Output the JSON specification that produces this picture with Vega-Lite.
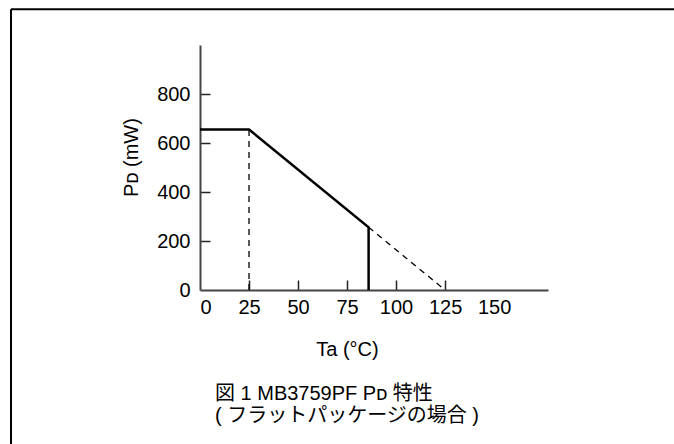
{
  "$schema": "https://vega.github.io/schema/vega-lite/v6.json",
  "width": 348,
  "height": 245,
  "autosize": {"type": "none"},
  "padding": {"left": 200, "top": 45, "right": 126, "bottom": 154},
  "background": "white",
  "title": {
    "text": ["図 1 MB3759PF Pᴅ 特性", "( フラットパッケージの場合 )"],
    "orient": "bottom",
    "anchor": "start",
    "frame": "group",
    "dx": 15,
    "offset": -64,
    "font": "Liberation Sans, DejaVu Sans, Noto Sans CJK JP",
    "fontSize": 20,
    "fontWeight": "normal",
    "lineHeight": 22,
    "color": "black"
  },
  "config": {
    "view": {"stroke": null},
    "axis": {
      "grid": false,
      "labelFont": "Liberation Sans",
      "labelFontSize": 20,
      "labelColor": "black",
      "titleFont": "Liberation Sans, DejaVu Sans",
      "titleFontSize": 20,
      "titleFontWeight": "normal",
      "titleColor": "black",
      "domainColor": "#444",
      "domainWidth": 2,
      "tickColor": "#222",
      "tickWidth": 1.5,
      "tickSize": -10,
      "labelPadding": 20
    }
  },
  "layer": [
    {
      "data": {"values": [
        {"x": -96.4, "x2": -96.4, "y": 1146, "y2": -640},
        {"x": -96.4, "x2": 260, "y": 1146, "y2": 1146}
      ]},
      "mark": {"type": "rule", "color": "black", "strokeWidth": 2},
      "encoding": {
        "x": {"field": "x", "type": "quantitative",
          "scale": {"domain": [0, 177.5], "nice": false, "zero": true},
          "axis": {
            "values": [0, 25, 50, 75, 100, 125, 150],
            "title": "Ta (°C)",
            "titleX": 147,
            "titlePadding": 22,
            "labelPadding": 17,
            "tickOpacity": {"condition": {"test": "datum.value == 0 || datum.value >= 150", "value": 0}, "value": 1}
          }},
        "x2": {"field": "x2"},
        "y": {"field": "y", "type": "quantitative",
          "scale": {"domain": [0, 1000], "nice": false, "zero": true},
          "axis": {
            "values": [0, 200, 400, 600, 800],
            "title": "Pᴅ (mW)",
            "titleY": 112,
            "titlePadding": 15,
            "tickOpacity": {"condition": {"test": "datum.value == 0", "value": 0}, "value": 1}
          }},
        "y2": {"field": "y2"}
      }
    },
    {
      "data": {"values": [
        {"x": 25, "x2": 25, "y": 0, "y2": 655},
        {"x": 86, "x2": 125, "y": 256, "y2": 0}
      ]},
      "mark": {"type": "rule", "color": "black", "strokeWidth": 1.3, "strokeDash": [6, 5]},
      "encoding": {
        "x": {"field": "x", "type": "quantitative"},
        "x2": {"field": "x2"},
        "y": {"field": "y", "type": "quantitative"},
        "y2": {"field": "y2"}
      }
    },
    {
      "data": {"values": [
        {"ta": 0, "pd": 655, "o": 1},
        {"ta": 25, "pd": 655, "o": 2},
        {"ta": 86, "pd": 256, "o": 3},
        {"ta": 86, "pd": 0, "o": 4}
      ]},
      "mark": {"type": "line", "color": "black", "strokeWidth": 2.5, "strokeJoin": "miter"},
      "encoding": {
        "x": {"field": "ta", "type": "quantitative"},
        "y": {"field": "pd", "type": "quantitative"},
        "order": {"field": "o"}
      }
    }
  ]
}
